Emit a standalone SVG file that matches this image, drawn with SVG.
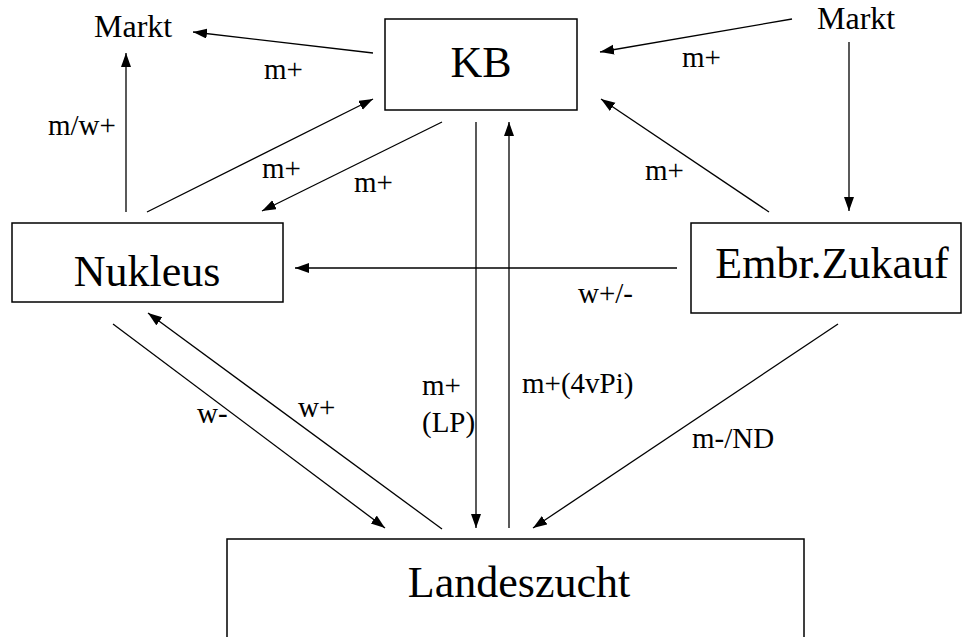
<svg xmlns="http://www.w3.org/2000/svg" width="963" height="637" viewBox="0 0 963 637">
<style>
.big{font-size:44px}
.mk{font-size:32px}
.lb{font-size:29px}
.box{fill:#fff;stroke:#000;stroke-width:1.5}
.c line{stroke:#000;stroke-width:1.3;fill:none}
.a{marker-end:url(#ah)}
</style>
<defs>
<marker id="ah" markerUnits="userSpaceOnUse" markerWidth="15" markerHeight="11" refX="14" refY="5" orient="auto">
<path d="M0,0 L14,5 L0,10 Z" fill="#000"/>
</marker>
</defs>
<rect width="963" height="637" fill="#fff"/>
<g font-family="'Liberation Serif', 'DejaVu Serif', serif" fill="#000">
<g id="markt-left"><text class="mk" x="94" y="37">Markt</text></g>
<g id="markt-right"><text class="mk" x="817" y="29">Markt</text></g>
<g id="kb"><rect class="box" x="385" y="19" width="192" height="91"/><text class="big" x="481" y="77" text-anchor="middle">KB</text></g>
<g id="nukleus"><rect class="box" x="12" y="223" width="271" height="79"/><text class="big" x="147" y="286" text-anchor="middle">Nukleus</text></g>
<g id="embr"><rect class="box" x="691" y="223" width="270" height="90"/><text class="big" x="832" y="278" text-anchor="middle">Embr.Zukauf</text></g>
<g id="landeszucht"><rect class="box" x="227" y="539" width="577" height="110"/><text class="big" x="519" y="597" text-anchor="middle">Landeszucht</text></g>
<g id="connectors" class="c">
<line class="a" x1="373" y1="53" x2="193" y2="32"/>
<line class="a" x1="792" y1="19" x2="600" y2="52"/>
<line class="a" x1="849" y1="42" x2="849" y2="211"/>
<line class="a" x1="126" y1="212" x2="126" y2="53"/>
<line class="a" x1="147" y1="212" x2="373" y2="99"/>
<line class="a" x1="442" y1="122" x2="262" y2="211"/>
<line class="a" x1="769" y1="212" x2="601" y2="99"/>
<line class="a" x1="476" y1="122" x2="476" y2="528"/>
<line class="a" x1="509" y1="528" x2="509" y2="122"/>
<line class="a" x1="677" y1="268" x2="295" y2="268"/>
<line class="a" x1="113" y1="324" x2="385" y2="528"/>
<line class="a" x1="442" y1="529" x2="148" y2="313"/>
<line class="a" x1="838" y1="324" x2="533" y2="528"/>
</g>
<g id="labels">
<text class="lb" x="264" y="79">m+</text>
<text class="lb" x="682" y="67">m+</text>
<text class="lb" x="48" y="135">m/w+</text>
<text class="lb" x="262" y="178">m+</text>
<text class="lb" x="354" y="192">m+</text>
<text class="lb" x="645" y="180">m+</text>
<text class="lb" x="578" y="303">w+/-</text>
<text class="lb" x="197" y="423">w-</text>
<text class="lb" x="298" y="417">w+</text>
<text class="lb" x="422" y="395">m+</text>
<text class="lb" x="422" y="432">(LP)</text>
<text class="lb" x="522" y="393">m+(4vPi)</text>
<text class="lb" x="692" y="448">m-/ND</text>
</g>
</g>
</svg>
